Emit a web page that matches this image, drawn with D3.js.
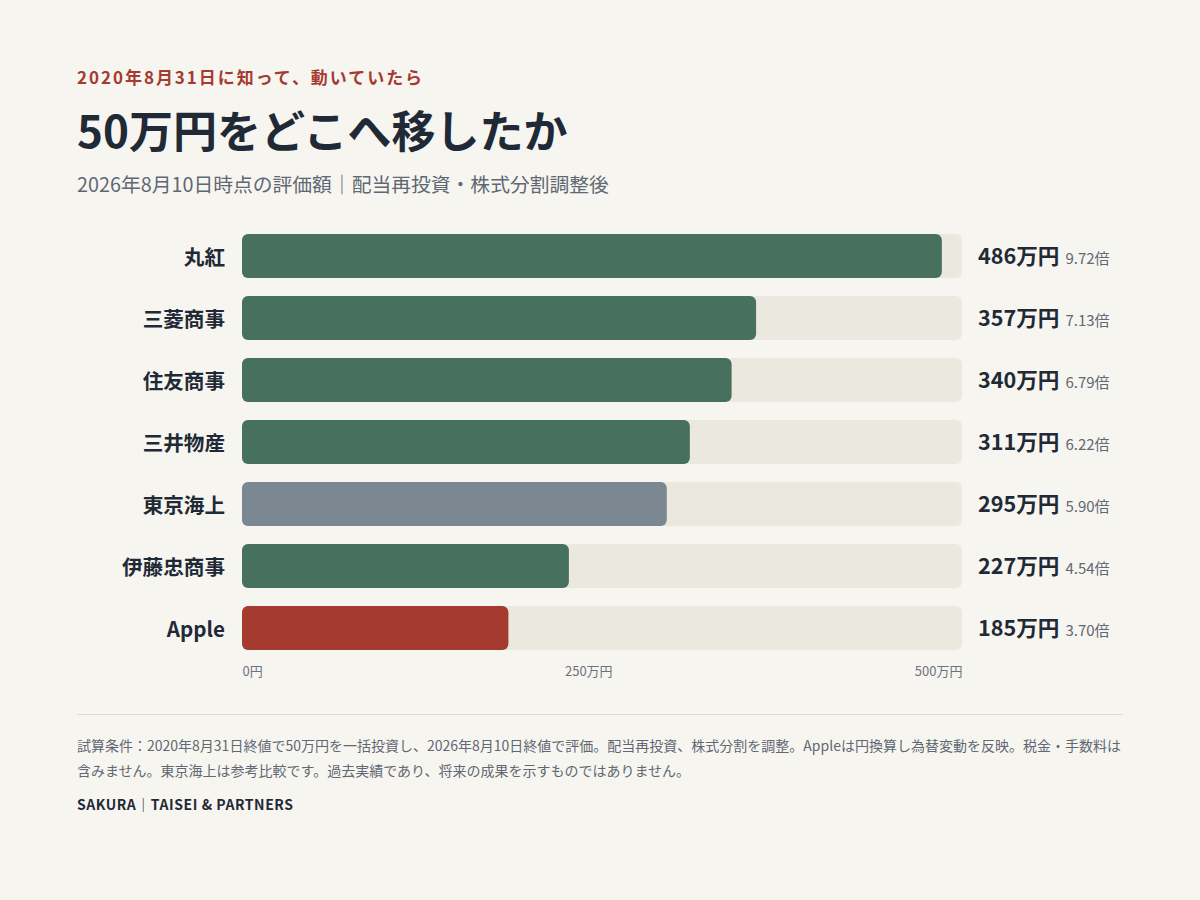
<!DOCTYPE html>
<html lang="ja">
<head>
<meta charset="utf-8">
<script src="https://cdn.jsdelivr.net/npm/d3@7"></script>
<style>
  html, body { margin: 0; padding: 0; background: #f7f5f0; }
  svg { display: block; font-family: "Noto Sans CJK JP", "Noto Sans", sans-serif; }
</style>
</head>
<body>
<svg id="chart" width="1200" height="900"></svg>
<script>
// ---- data ----
const categories = ["丸紅", "三菱商事", "住友商事", "三井物産", "東京海上", "伊藤忠商事", "Apple"];
const values = [486, 357, 340, 311, 295, 227, 185];          // 万円
const multiples = ["9.72", "7.13", "6.79", "6.22", "5.90", "4.54", "3.70"];
const groups = ["trade", "trade", "trade", "trade", "ref", "trade", "apple"];
const tickValues = [0, 250, 500];
const tickLabels = ["0円", "250万円", "500万円"];

const kicker = "2020年8月31日に知って、動いていたら";
const title = "50万円をどこへ移したか";
const subtitle = "2026年8月10日時点の評価額｜配当再投資・株式分割調整後";
const notes = [
  "試算条件：2020年8月31日終値で50万円を一括投資し、2026年8月10日終値で評価。配当再投資、株式分割を調整。Appleは円換算し為替変動を反映。税金・手数料は",
  "含みません。東京海上は参考比較です。過去実績であり、将来の成果を示すものではありません。"
];
const brand = "SAKURA｜TAISEI & PARTNERS";

// ---- styles ----
const colors = { trade: "#47705f", ref: "#7b8791", apple: "#a53a31" };
const ink = "#1f2a36", gray = "#5f6873", track = "#ebe8e0";

const svg = d3.select("#chart");
svg.append("rect").attr("width", 1200).attr("height", 900).attr("fill", "#f7f5f0");

// header
svg.append("text").attr("x", 77).attr("y", 84).text(kicker)
  .attr("fill", "#a53a31").attr("font-size", 17).attr("font-weight", 700)
  .attr("letter-spacing", "0.115em");
svg.append("text").attr("x", 77).attr("y", 148).text(title)
  .attr("fill", ink).attr("font-size", 44).attr("font-weight", 700);
svg.append("text").attr("x", 77).attr("y", 192).text(subtitle)
  .attr("fill", gray).attr("font-size", 19.8).attr("font-weight", 400);

// scales
const x = d3.scaleLinear().domain([0, 500]).range([242, 962]);
const y2 = d3.scaleBand().domain(categories).range([234, 234 + 62 * 7 - 18]).paddingInner(18 / 62);

const rows = svg.append("g").selectAll("g").data(categories).join("g")
  .attr("transform", d => `translate(0,${y2(d)})`);

const bh = y2.bandwidth();

rows.append("rect").attr("x", x(0)).attr("y", 0)
  .attr("width", x(500) - x(0)).attr("height", bh).attr("rx", 6).attr("fill", track);

rows.append("rect").attr("x", x(0)).attr("y", 0)
  .attr("width", (d, i) => x(values[i]) - x(0)).attr("height", bh).attr("rx", 6)
  .attr("fill", (d, i) => colors[groups[i]]);

rows.append("text").attr("x", 225).attr("y", bh / 2 + 2).attr("dy", "0.35em")
  .attr("text-anchor", "end").attr("font-size", 20.6).attr("font-weight", 700)
  .attr("fill", ink).text(d => d);

const vt = rows.append("text").attr("x", 978).attr("y", bh / 2 + 2).attr("dy", "0.36em");
vt.append("tspan").attr("font-size", 21.6).attr("font-weight", 700).attr("fill", ink)
  .text((d, i) => values[i] + "万円");
vt.append("tspan").attr("dx", 6).attr("font-size", 15).attr("font-weight", 400).attr("fill", gray)
  .text((d, i) => multiples[i] + "倍");

// axis
const axis = d3.axisBottom(x).tickValues(tickValues).tickSize(0).tickPadding(0)
  .tickFormat((d, i) => tickLabels[i]);
const ag = svg.append("g").attr("transform", "translate(0,667)").call(axis);
ag.select(".domain").remove();
ag.selectAll("text").attr("font-size", 13).attr("fill", "#6b7380")
  .attr("font-family", "'Noto Sans CJK JP', sans-serif").attr("dy", "0.71em");
// flex space-between style placement
const tnodes = ag.selectAll("text").nodes();
const widths = tnodes.map(n => n.getComputedTextLength());
const free = (x(500) - x(0)) - d3.sum(widths);
d3.select(tnodes[0]).attr("text-anchor", "start").attr("x", 0);
d3.select(tnodes[2]).attr("text-anchor", "end").attr("x", 0);
const midStart = x(0) + widths[0] + free / 2;
d3.select(tnodes[1]).attr("text-anchor", "start").attr("x", midStart - x(250));

// divider
svg.append("line").attr("x1", 77).attr("x2", 1123).attr("y1", 714.5).attr("y2", 714.5)
  .attr("stroke", "#dcd9d1").attr("stroke-width", 1);

// notes
svg.append("g").selectAll("text").data(notes).join("text")
  .attr("x", 77).attr("y", (d, i) => 751 + i * 25)
  .attr("font-size", 14).attr("fill", gray).text(d => d);

svg.append("text").attr("x", 77).attr("y", 810).text(brand)
  .attr("font-size", 14).attr("font-weight", 700).attr("fill", ink)
  .attr("letter-spacing", "0.04em");
</script>
</body>
</html>
